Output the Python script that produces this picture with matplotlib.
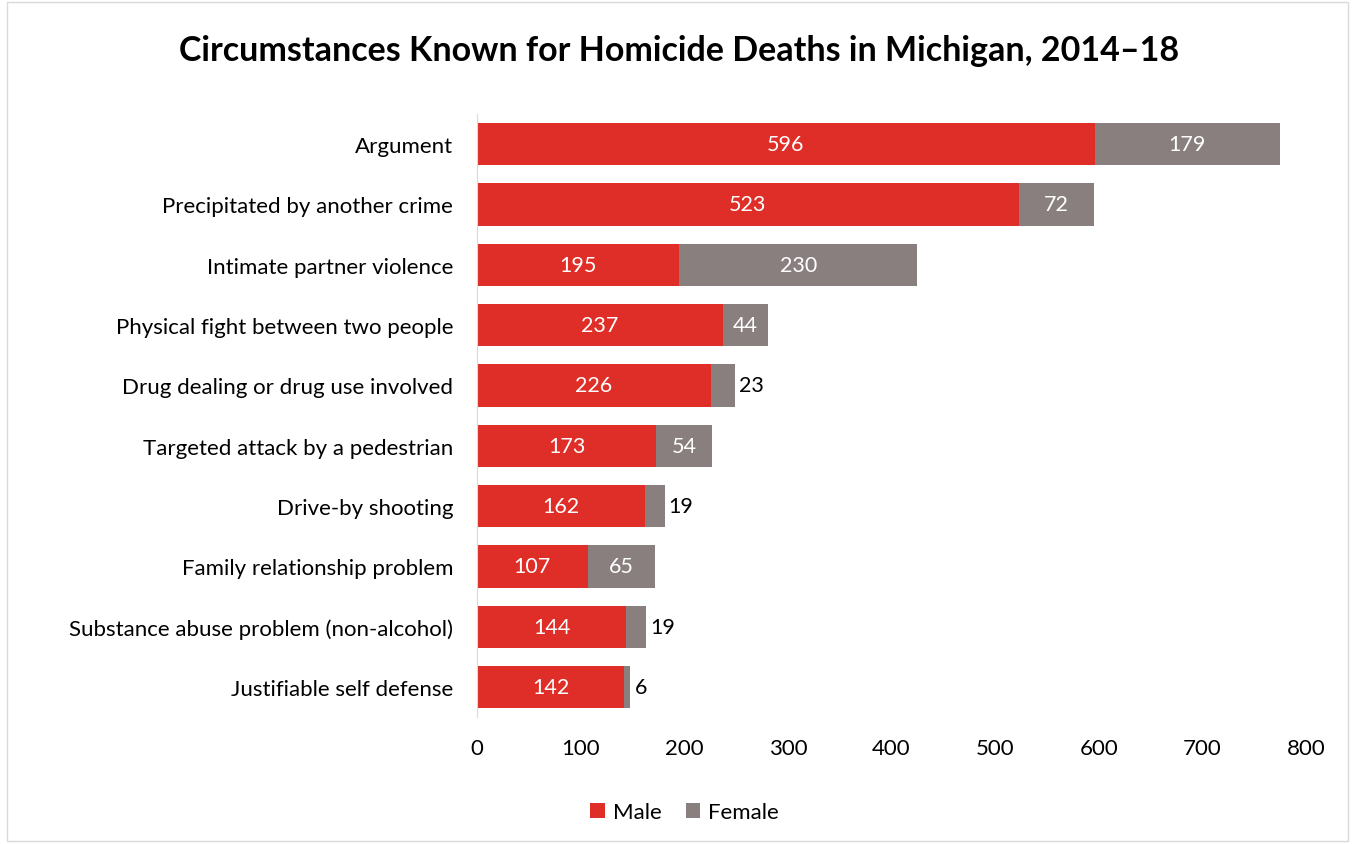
import matplotlib.pyplot as plt
from matplotlib.patches import Rectangle

plt.rcParams['font.family'] = ['Lato', 'DejaVu Sans']

categories = ["Argument", "Precipitated by another crime", "Intimate partner violence",
              "Physical fight between two people", "Drug dealing or drug use involved",
              "Targeted attack by a pedestrian", "Drive-by shooting",
              "Family relationship problem", "Substance abuse problem (non-alcohol)",
              "Justifiable self defense"]
male = [596, 523, 195, 237, 226, 173, 162, 107, 144, 142]
female = [179, 72, 230, 44, 23, 54, 19, 65, 19, 6]
xticks = [0, 100, 200, 300, 400, 500, 600, 700, 800]

red = "#DE2E27"
gray = "#8A7F7F"

fig = plt.figure(figsize=(13.53, 8.45), dpi=100)
ax = fig.add_axes([0.3525, 0.15, 0.6128, 0.714])

y = list(range(len(categories)))
ax.barh(y, male, height=0.7, color=red, label="Male")
ax.barh(y, female, left=male, height=0.7, color=gray, label="Female")

for i in y:
    ax.text(male[i] / 2, i, str(male[i]), ha="center", va="center",
            color="white", fontsize=15.5)
    if female[i] >= 40:
        ax.text(male[i] + female[i] / 2, i, str(female[i]), ha="center",
                va="center", color="white", fontsize=15.5)
    else:
        ax.text(male[i] + female[i] + 4, i, str(female[i]), ha="left",
                va="center", color="black", fontsize=15.5)

ax.set_ylim(len(categories) - 0.5, -0.5)
ax.set_xlim(0, 800)
ax.set_yticks(y)
ax.set_yticklabels(categories, fontsize=16)
ax.set_xticks(xticks)
ax.set_xticklabels([str(t) for t in xticks], fontsize=16)
ax.tick_params(axis="y", length=0, pad=17)
ax.tick_params(axis="x", length=0, pad=15)
for s in ["top", "right", "bottom"]:
    ax.spines[s].set_visible(False)
ax.spines["left"].set_color("#D9D9D9")

fig.suptitle("Circumstances Known for Homicide Deaths in Michigan, 2014\u201318",
             x=0.502, y=0.958, fontsize=24.5, fontweight="bold")

fig.legend(loc="center", bbox_to_anchor=(0.506, 0.038), ncol=2, frameon=False,
           fontsize=16, handlelength=0.65, handleheight=0.65, handletextpad=0.35,
           columnspacing=1.1)

fig.patches.append(Rectangle((0.005, 0.003), 0.991, 0.994, transform=fig.transFigure,
                             fill=False, edgecolor="#D9D9D9", linewidth=1))

fig.savefig("out.png", dpi=100)
